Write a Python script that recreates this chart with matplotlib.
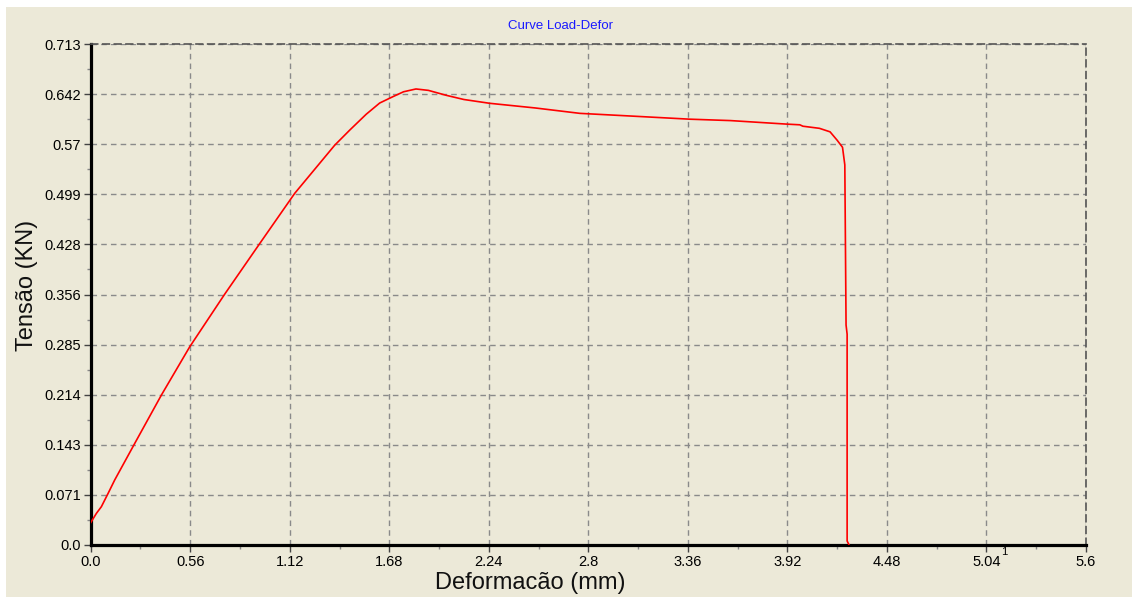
import numpy as np
import matplotlib.pyplot as plt
from matplotlib.patches import Rectangle

# Load-deformation curve
deformacao = [0.0, 0.032, 0.06, 0.098, 0.135, 0.248, 0.398, 0.557, 0.754,
              0.951, 1.148, 1.373, 1.458, 1.55, 1.626, 1.70, 1.76, 1.83, 1.90,
              2.0, 2.1, 2.245, 2.5, 2.752, 3.0, 3.371, 3.6, 3.915, 3.99,
              4.007, 4.10, 4.16, 4.20, 4.23, 4.243, 4.250, 4.250, 4.256, 4.256, 4.267]
tensao = [0.0318, 0.045, 0.0545, 0.0735, 0.0925, 0.1447, 0.2135, 0.282, 0.357,
          0.429, 0.5005, 0.569, 0.5906, 0.613, 0.629, 0.638, 0.645, 0.649, 0.647,
          0.640, 0.634, 0.6286, 0.622, 0.6143, 0.611, 0.606, 0.604, 0.599, 0.598,
          0.596, 0.593, 0.588, 0.576, 0.566, 0.541, 0.313, 0.313, 0.30, 0.0057, 0.0]

x_ticks = [0.0, 0.56, 1.12, 1.68, 2.24, 2.8, 3.36, 3.92, 4.48, 5.04, 5.6]
x_labels = ['0.0', '0.56', '1.12', '1.68', '2.24', '2.8', '3.36', '3.92', '4.48', '5.04', '5.6']
y_ticks = [0.0, 0.0713, 0.1426, 0.2139, 0.2852, 0.3565, 0.4278, 0.4991, 0.5704, 0.6417, 0.713]
y_labels = ['0.0', '0.071', '0.143', '0.214', '0.285', '0.356', '0.428', '0.499', '0.57', '0.642', '0.713']

bg = '#ECE9D8'
plt.rcParams['font.family'] = ['Liberation Sans', 'DejaVu Sans']

fig = plt.figure(figsize=(11.32, 5.97), dpi=100, facecolor='white')
fig.patches.append(Rectangle((6 / 1132, 0), 1, 1 - 7 / 597, transform=fig.transFigure,
                             facecolor=bg, edgecolor='none', zorder=-10))
ax = fig.add_axes([90.7 / 1132, 52 / 597, (1086 - 90.7) / 1132, 501 / 597])
ax.set_facecolor(bg)

ax.plot(deformacao, tensao, color='#FF0000', linewidth=1.2, zorder=3)

ax.set_xlim(0, 5.6)
ax.set_ylim(0, 0.713)
ax.set_xticks(x_ticks)
ax.set_xticklabels(x_labels)
ax.set_yticks(y_ticks)
ax.set_yticklabels(y_labels)
ax.set_xticks([(a + b) / 2 for a, b in zip(x_ticks[:-1], x_ticks[1:])], minor=True)
ax.set_yticks([(a + b) / 2 for a, b in zip(y_ticks[:-1], y_ticks[1:])], minor=True)
ax.tick_params(which='major', length=5, width=1, color='#444444', labelsize=10.5, pad=2)
ax.tick_params(which='minor', length=3, width=1, color='#888888')

ax.grid(True, which='major', color='#8a8a8a', linestyle=(0, (4, 3)), linewidth=1)

for side in ['left', 'bottom']:
    ax.spines[side].set_linewidth(2.3)
    ax.spines[side].set_color('black')
for side in ['top', 'right']:
    ax.spines[side].set_linestyle((0, (4, 3)))
    ax.spines[side].set_color('#555555')
    ax.spines[side].set_linewidth(1.2)

fig.text(560 / 1132, 1 - 26 / 597, 'Curve Load-Defor', color='#1a1aff', fontsize=9.5,
         ha='center', va='center')
fig.text(27 / 1132, 1 - 285 / 597, 'Tensão (KN)', rotation=90, fontsize=17,
         ha='center', va='center', color='#111111')
fig.text(530 / 1132, 1 - 583 / 597, 'Deformacão (mm)', fontsize=17,
         ha='center', va='center', color='#111111')
fig.text(1004 / 1132, 1 - 552 / 597, '1', fontsize=8, ha='center', va='center')

fig.savefig('out.png', dpi=100, facecolor='white')
